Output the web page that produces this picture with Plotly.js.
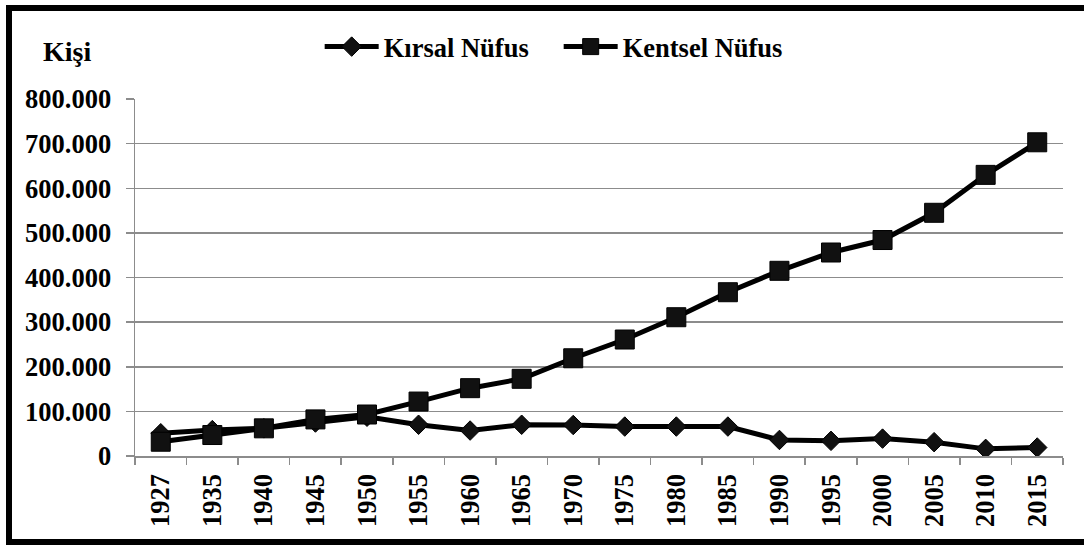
<!DOCTYPE html>
<html>
<head>
<meta charset="utf-8">
<script src="https://cdn.plot.ly/plotly-3.0.1.min.js"></script>
<style>
html,body{margin:0;padding:0;width:1084px;height:545px;overflow:hidden;background:#fff;}
#chart{position:absolute;left:0;top:0;width:1084px;height:545px;}
#frame{position:absolute;left:6px;top:5px;width:1100px;height:540px;border:6px solid #000;box-sizing:border-box;pointer-events:none;}
</style>
</head>
<body>
<div id="chart"></div>
<div id="frame"></div>
<script>
const years = ['1927','1935','1940','1945','1950','1955','1960','1965','1970','1975','1980','1985','1990','1995','2000','2005','2010','2015'];
const kirsal = [51000,58000,62000,75000,88000,70000,57000,70000,69500,66000,66000,66000,36000,34000,39000,31000,16000,19000];
const kentsel = [32000,47000,62000,82000,93000,122000,152000,173000,219000,261000,311000,367000,415000,456000,484000,545000,630000,703000];
const seriesNames = ['Kırsal Nüfus','Kentsel Nüfus'];
const yTicks = [0,100000,200000,300000,400000,500000,600000,700000,800000];

const font = {family:'"Liberation Serif","Times New Roman",serif', size:26.5, color:'#000'};
const boldFont = Object.assign({}, font, {weight:'bold'});

const traces = [
  {x:years, y:kirsal, name:seriesNames[0], type:'scatter', mode:'lines+markers',
   line:{color:'#000', width:5}, marker:{symbol:'diamond', size:15, color:'#111', line:{color:'#000', width:1}}},
  {x:years, y:kentsel, name:seriesNames[1], type:'scatter', mode:'lines+markers',
   line:{color:'#000', width:5}, marker:{symbol:'square', size:19, color:'#111', line:{color:'#000', width:1}}}
];

const layout = {
  width:1084, height:545,
  margin:{l:135, r:21, t:99, b:89, pad:0},
  paper_bgcolor:'rgba(0,0,0,0)', plot_bgcolor:'rgba(0,0,0,0)',
  separators:',.',
  font:boldFont,
  showlegend:true,
  legend:{orientation:'h', x:0.199, xanchor:'left', y:1.146, yanchor:'middle', font:boldFont, itemwidth:54,
          entrywidth:170, entrywidthmode:'pixels', tracegroupgap:0, bgcolor:'rgba(0,0,0,0)'},
  xaxis:{type:'category', range:[-0.5,17.5], tickangle:-90, tickson:'boundaries', ticks:'outside', ticklen:7, tickwidth:1.5, tickcolor:'#8c8c8c',
         showline:true, linecolor:'#8c8c8c', linewidth:1.5, showgrid:false, tickfont:boldFont, zeroline:false, fixedrange:true, ticklabelstandoff:6},
  yaxis:{range:[0,800000], tickvals:yTicks, tickformat:',d', ticks:'outside', ticklen:8, tickwidth:1.5, tickcolor:'#8c8c8c',
         showline:true, linecolor:'#8c8c8c', linewidth:1.5, showgrid:true, gridcolor:'#8c8c8c', gridwidth:1.5, zeroline:false,
         tickfont:boldFont, ticklabelstandoff:9, fixedrange:true},
  annotations:[{text:'Kişi', xref:'paper', yref:'paper', x:-0.101, y:1.133, xanchor:'left', yanchor:'middle', showarrow:false,
                font:Object.assign({}, boldFont, {size:28})}]
};

Plotly.newPlot('chart', traces, layout, {displayModeBar:false, staticPlot:true});
</script>
</body>
</html>
